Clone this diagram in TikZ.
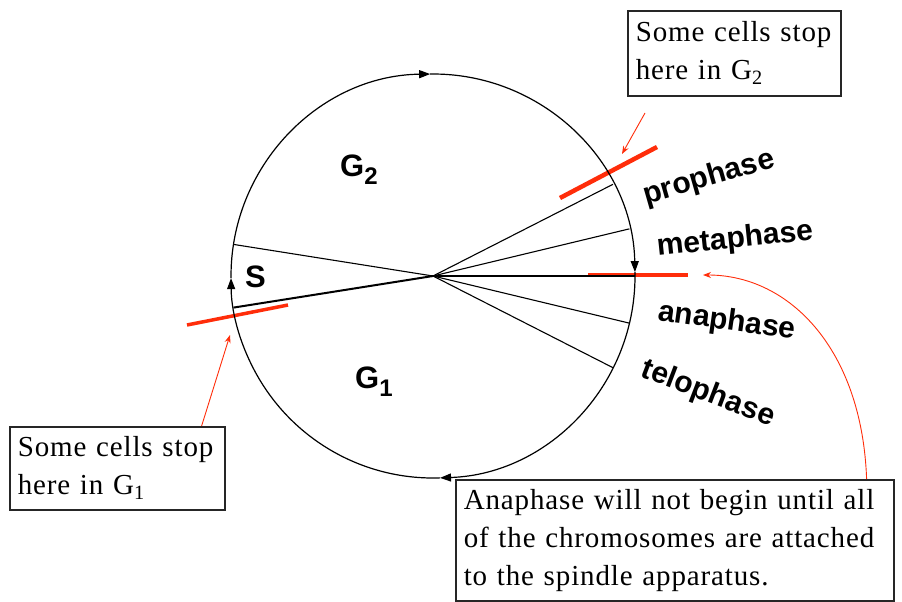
\documentclass[tikz,border=0pt]{standalone}
\usepackage{fontspec}
\newfontfamily\notefont{Liberation Serif}[LetterSpace=3]
\newfontfamily\phasefont{Liberation Sans}
\usetikzlibrary{arrows.meta, positioning}
\definecolor{stopred}{RGB}{255,45,10}
\newcommand{\gsub}[1]{\raisebox{-8pt}{\fontsize{24}{24}\selectfont #1}}

\begin{document}
\begin{tikzpicture}[x=1pt, y=-1pt,
    notebox/.style={draw=black!85, line width=1.6pt, fill=white, align=left, anchor=north west, inner xsep=8pt, inner ysep=0pt, font=\notefont\fontsize{29}{38}\selectfont},
    phase/.style={font=\phasefont\bfseries\fontsize{30}{30}\selectfont, inner sep=0pt},
    glabel/.style={font=\phasefont\bfseries\fontsize{31}{31}\selectfont, inner sep=0pt, anchor=base west},
    rim/.style={line width=1.2pt, -{Triangle[length=11pt, width=8pt]}},
    spoke/.style={line width=1.1pt},
    stopbar/.style={draw=stopred, line width=4.5pt},
    redline/.style={draw=stopred, line width=0.9pt, -{Stealth[length=8pt, width=6pt]}}]

    \useasboundingbox (0,0) rectangle (902,602);
    \coordinate (c) at (433,276);

    % where the cycle can halt
    \draw[stopbar] (560,198) -- (657,147);
    \draw[stopbar] (588,275) -- (688,275);
    \draw[stopbar, line width=3.5pt] (187,325) -- (288,305);

    % the cycle
    \draw[rim] ([shift={(88:202)}]c) arc[start angle=88, end angle=179.4, radius=202];
    \draw[rim] ([shift={(179.4:202)}]c) arc[start angle=179.4, end angle=269.2, radius=202];
    \draw[rim] ([shift={(269.2:202)}]c) arc[start angle=269.2, end angle=358.9, radius=202];
    \draw[rim] ([shift={(358.9:202)}]c) arc[start angle=358.9, end angle=448, radius=202];

    \foreach \a in {189,-27,-13.5,0,13.5,27}
        \draw[spoke] (c) -- ++(\a:202);
    \draw[spoke, line width=2pt] (c) -- ++(171:202);

    \node[glabel] (gtwo) at (340,176) {G\gsub{2}};
    \node[glabel] (gone) at (355,388) {G\gsub{1}};
    \node[glabel] (sphase) at (245,287) {S};

    \node[phase, rotate=16] (pro) at (709,178) {prophase};
    \node[phase, rotate=6] (meta) at (735,240) {metaphase};
    \node[phase, rotate=-8] (ana) at (727,322) {anaphase};
    \node[phase, rotate=-21] (telo) at (708,394) {telophase};

    \node[notebox, text width=199pt, minimum height=83pt] (g1box) at (9,426) {Some cells stop\\here in G\textsubscript{1}};
    \node[notebox, text width=197pt, minimum height=85pt] (g2box) at (627,10) {Some cells stop\\here in G\textsubscript{2}};
    \node[notebox, text width=422pt, minimum height=121pt] (anabox) at (455,479) {Anaphase will not begin until all\\of the chromosomes are attached\\to the spindle apparatus.};

    \coordinate (g1tip) at (230,335);
    \coordinate (g2tail) at (645,113);
    \coordinate (g2tip) at (622,154);
    \coordinate (anatip) at (703,275);

    \draw[redline] ([xshift=-24pt]g1box.north east) -- (g1tip);
    \draw[redline] (g2tail) -- (g2tip);
    \draw[redline] ([xshift=-28pt]anabox.north east) .. controls (862,350) and (790,275) .. (anatip);
\end{tikzpicture}
\end{document}
